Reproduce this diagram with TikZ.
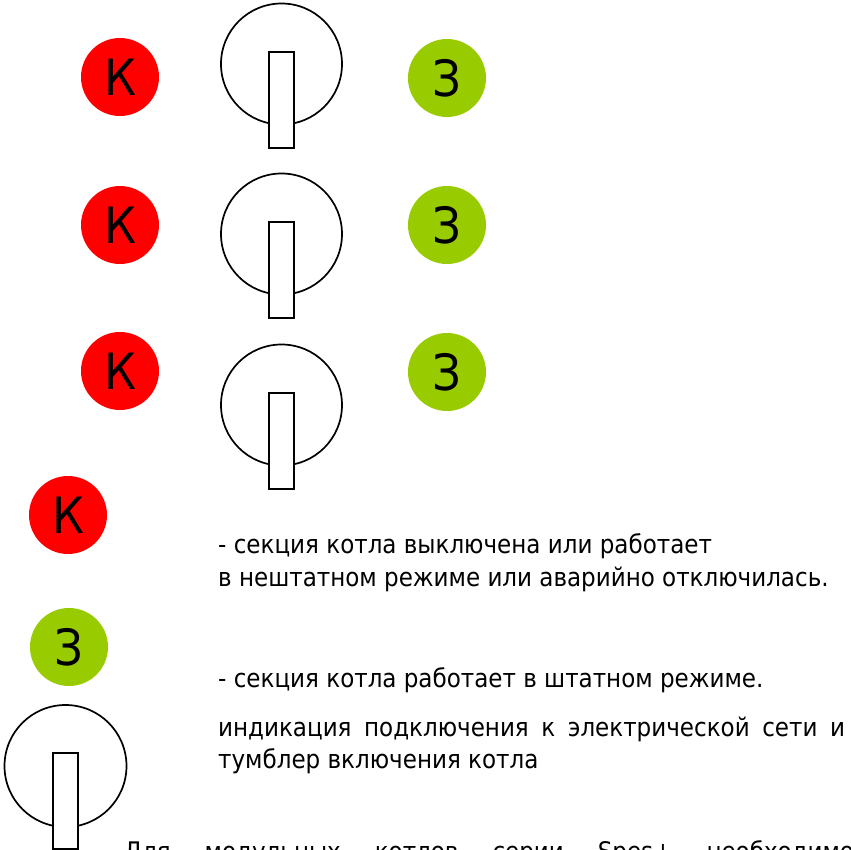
\documentclass[tikz,border=0pt]{standalone}
\usepackage{fontspec}
\setmainfont{DejaVu Sans Condensed}
\definecolor{kred}{RGB}{255,0,0}
\definecolor{zgreen}{RGB}{153,204,0}
\tikzset{
  lamp/.style={circle, minimum size=78pt, inner sep=0pt, font=\fontsize{50}{50}\selectfont},
  redlamp/.style={lamp, fill=kred},
  greenlamp/.style={lamp, fill=zgreen},
  txt/.style={anchor=base west, inner sep=0pt, font=\fontsize{25.6}{25.6}\selectfont},
  sw/.style={draw=black, line width=1.7pt},
}
\newcommand{\toggle}[3]{% name, cx, cy
  \draw[sw] (#2,#3) circle (60.5);
  \draw[sw, fill=white] (#2-12.5,#3-12) rectangle (#2+12.5,#3+84);
}
\begin{document}
\begin{tikzpicture}[x=1pt,y=-1pt]
\useasboundingbox (0,0) rectangle (851,850);
\fill[white] (0,0) rectangle (851,850);
% rows
\node[redlamp] (k1) at (120,77) {К};
\node[redlamp] (k2) at (120,225) {К};
\node[redlamp] (k3) at (120,371) {К};
\node[greenlamp] (z1) at (447,78) {З};
\node[greenlamp] (z2) at (447,225) {З};
\node[greenlamp] (z3) at (447,372) {З};
\toggle{t1}{281.5}{64}
\toggle{t2}{281.5}{234}
\toggle{t3}{281.5}{405}
% legend
\node[redlamp] (kl) at (68,515) {К};
\node[greenlamp] (zl) at (69,647) {З};
\draw[sw] (65.5,766) circle (61);
\draw[sw, fill=white] (53,753) rectangle (78,849);
\node[txt] (l1) at (218,553) {- секция котла выключена или работает};
\node[txt] (l2) at (218,586) {в нештатном режиме или аварийно отключилась.};
\node[txt] (l3) at (218,687) {- секция котла работает в штатном режиме.};
\node[txt] (l4) at (218,736) {\makebox[627pt][s]{индикация подключения к электрической сети и}};
\node[txt] (l5) at (218,768) {тумблер включения котла};
\node[txt] (l6) at (124,860) {\makebox[730pt][s]{Для модульных котлов серии Spes+ необходимо}};
\end{tikzpicture}
\end{document}
